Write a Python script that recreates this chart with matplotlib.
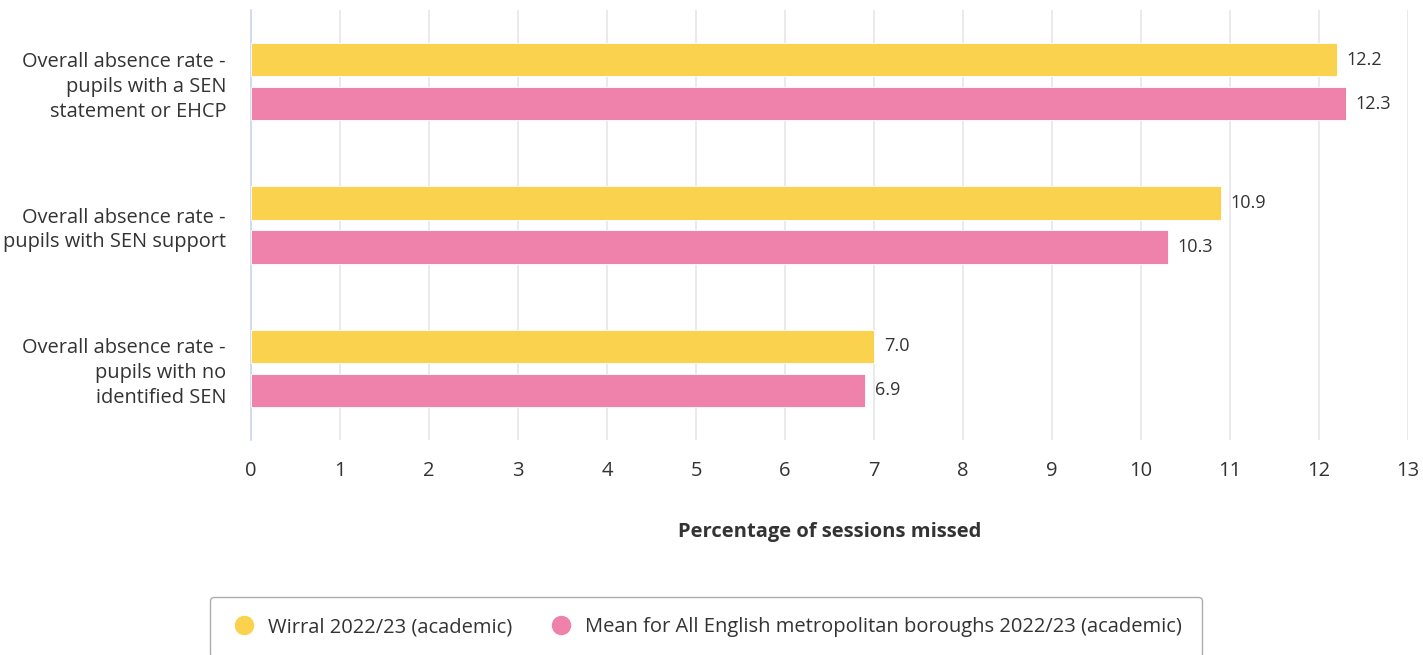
import numpy as np
import matplotlib.pyplot as plt
from matplotlib.lines import Line2D

plt.rcParams['font.family'] = ['Open Sans', 'DejaVu Sans']

categories = [
    "Overall absence rate -\npupils with a SEN\nstatement or EHCP",
    "Overall absence rate -\npupils with SEN support",
    "Overall absence rate -\npupils with no\nidentified SEN",
]
wirral = [12.2, 10.9, 7.0]
mean_metro = [12.3, 10.3, 6.9]
series_names = ["Wirral 2022/23 (academic)",
                "Mean for All English metropolitan boroughs 2022/23 (academic)"]
colors = ["#FBD24E", "#EF82AA"]
text_color = "#333333"
fs = 14.4

fig = plt.figure(figsize=(14.23, 6.55), dpi=100)
ax = fig.add_axes([251 / 1423, 1 - 440 / 655, 1157 / 1423, 430 / 655])

y = np.arange(len(categories))
h = 0.232
off = 0.153
bars1 = ax.barh(y - off, wirral, height=h, color=colors[0], edgecolor="white", linewidth=0.6, zorder=3)
bars2 = ax.barh(y + off, mean_metro, height=h, color=colors[1], edgecolor="white", linewidth=0.6, zorder=3)

for bars, vals in [(bars1, wirral), (bars2, mean_metro)]:
    for b, v in zip(bars, vals):
        ax.annotate(f"{v:.1f}", (v, b.get_y() + b.get_height() / 2),
                    xytext=(7, 0), textcoords="offset points",
                    va="center", ha="left", fontsize=13, color=text_color)

ax.set_xlim(0, 13)
ax.set_ylim(2.5, -0.5)
ax.set_xticks(range(0, 14))
ax.set_yticks(y)
ax.set_yticklabels(categories, fontsize=fs, color=text_color, linespacing=1.33)
ax.tick_params(axis="x", labelsize=14.5, colors=text_color, length=0, pad=15)
ax.tick_params(axis="y", length=0, pad=18)

ax.grid(axis="x", color="#e6e6e6", linewidth=1.2, zorder=0)
for s in ["top", "right", "bottom"]:
    ax.spines[s].set_visible(False)
ax.spines["left"].set_color("#ccd6eb")
ax.spines["left"].set_linewidth(1.2)

ax.set_xlabel("Percentage of sessions missed", fontsize=14.5, fontweight="bold",
              color=text_color, labelpad=30)

handles = [Line2D([], [], marker="o", linestyle="", markersize=13, color=c) for c in colors]
leg = fig.legend(handles, series_names, loc="center",
                 bbox_to_anchor=(706 / 1423, 1 - 627 / 655), ncol=2,
                 fontsize=14.5, frameon=True, fancybox=True,
                 handlelength=1.4, handletextpad=0.5, columnspacing=1.7, borderpad=1.0)
for t in leg.get_texts():
    t.set_color(text_color)
leg.get_frame().set_edgecolor("#999999")
leg.get_frame().set_linewidth(1.0)

fig.savefig("out.png", dpi=100)
